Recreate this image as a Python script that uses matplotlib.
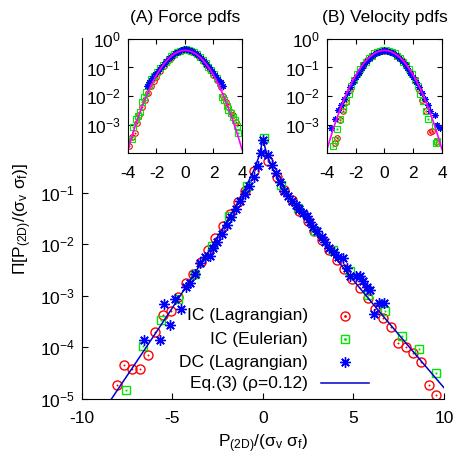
import numpy as np
import matplotlib
matplotlib.use("Agg")
import matplotlib.pyplot as plt
from matplotlib.lines import Line2D

plt.rcParams['font.family'] = ['Liberation Sans', 'DejaVu Sans']
plt.rcParams['mathtext.default'] = 'regular'
plt.rcParams['axes.unicode_minus'] = False
plt.rcParams['font.size'] = 12

RED = '#ff0000'
GREEN = '#00e600'
BLUE = '#0000ff'
LINE_BLUE = '#0000cc'
MAGENTA = '#ff00ff'

# ---- main panel: power pdf ----
ic_lag_x = [-8.08, -7.66, -7.22, -6.80, -6.37, -5.97, -5.54, -5.10, -4.71, -4.27, -3.85,
            -3.44, -3.06, -2.65, -2.23, -1.82, -1.40, -0.98, -0.48, 0.29, 0.76, 1.18,
            1.58, 1.99, 2.47, 2.84, 3.24, 3.65, 4.07, 4.49, 4.90, 5.36, 5.78, 6.19,
            6.61, 7.05, 7.44, 7.88, 8.30, 8.73, 9.17, 9.56]
ic_lag_y = [1.9e-5, 4.6e-5, 3.8e-5, 3.9e-5, 7.1e-5, 2.0e-4, 4.2e-4, 5.1e-4, 9.7e-4, 1.8e-3, 2.6e-3,
            4.6e-3, 7.8e-3, 1.3e-2, 2.3e-2, 3.9e-2, 6.5e-2, 0.11, 0.26, 0.41, 0.20, 0.114,
            0.073, 0.0435, 0.0278, 0.0178, 0.0123, 7.8e-3, 5.0e-3, 3.3e-3, 2.1e-3, 1.4e-3, 9.0e-4, 5.5e-4,
            3.7e-4, 2.5e-4, 1.24e-4, 1.04e-4, 7.7e-5, 5.3e-5, 1.9e-5, 1.2e-5]

ic_eul_x = [-7.57, -6.61, -5.65, -4.71, -3.76, -2.80, -1.88, -0.90, 0.05, 0.99, 1.95,
            2.90, 3.88, 4.81, 5.82, 6.74, 7.70, 8.62, 9.54]
ic_eul_y = [1.5e-5, 1.05e-4, 3.4e-4, 8.6e-4, 2.6e-3, 9.1e-3, 3.5e-2, 0.137, 1.15, 0.14, 0.051,
            0.018, 7.6e-3, 3.0e-3, 1.05e-3, 5.1e-4, 1.7e-4, 9.2e-5, 3.2e-5]

dc_lag_x = [-6.57, -5.69, -5.47, -5.14, -4.86, -4.55, -4.27, -4.03, -3.75, -3.48, -3.20,
            -2.95, -2.75, -2.56, -2.28, -2.00, -1.75, -1.50, -1.25, -1.00, -0.75, -0.50,
            -0.30, -0.10, 0.02, 0.29, 0.48, 0.72, 0.95, 1.18, 1.40, 1.58, 1.80, 1.99,
            2.20, 2.41, 2.60, 2.78, 3.00, 3.24, 3.45, 3.66, 3.90, 4.16, 4.44, 4.62,
            4.81, 5.12, 5.36, 5.55, 5.73, 5.91, 6.15, 6.41, 6.70]
dc_lag_y = [1.4e-4, 1.4e-4, 6.9e-4, 2.7e-4, 8.6e-4, 5.5e-4, 1.5e-3, 1.8e-3, 2.6e-3, 4.3e-3, 5.6e-3,
            5.8e-3, 8.5e-3, 1.13e-2, 1.6e-2, 2.35e-2, 3.4e-2, 4.9e-2, 6.8e-2, 9.5e-2, 0.135, 0.2,
            0.33, 0.6, 1.04, 0.55, 0.35, 0.24, 0.16, 0.106, 0.085, 0.068, 0.058, 0.048,
            0.04, 0.035, 0.027, 0.0215, 0.018, 0.0137, 0.011, 8.4e-3, 7.2e-3, 5.6e-3, 5.4e-3, 3.5e-3,
            2.4e-3, 2.4e-3, 2.45e-3, 1.9e-3, 1.5e-3, 1.3e-3, 4.5e-4, 7.2e-4, 7.2e-4]

eq3_x = [-8.6, -8.0, -7.0, -6.0, -5.0, -4.0, -3.0, -2.0, -1.5, -1.0, -0.5, -0.25, -0.1,
         -0.05, 0.05, 0.1, 0.25, 0.5, 1.0, 1.5, 2.0, 3.0, 4.0, 5.0, 6.0, 7.0, 8.0, 9.0, 10.0]
eq3_y = [7.6e-6, 1.57e-5, 5.2e-5, 1.74e-4, 5.9e-4, 2.06e-3, 7.3e-3, 2.76e-2, 5.55e-2, 0.117,
         0.276, 0.475, 0.764, 0.988, 1.0, 0.783, 0.505, 0.311, 0.149, 0.080, 0.0449, 0.0152,
         5.45e-3, 2.0e-3, 7.5e-4, 2.86e-4, 1.10e-4, 4.25e-5, 1.65e-5]

legend_labels = ['IC (Lagrangian)', 'IC (Eulerian)', 'DC (Lagrangian)', 'Eq.(3) (\u03c1=0.12)']

# ---- insets ----
gauss_x = [-4.0, -3.75, -3.5, -3.25, -3.0, -2.75, -2.5, -2.25, -2.0, -1.75, -1.5, -1.25, -1.0,
           -0.75, -0.5, -0.25, 0.0, 0.25, 0.5, 0.75, 1.0, 1.25, 1.5, 1.75, 2.0, 2.25, 2.5,
           2.75, 3.0, 3.25, 3.5, 3.75, 4.0]
gauss_y = [1.34e-4, 3.53e-4, 8.73e-4, 2.03e-3, 4.43e-3, 9.09e-3, 1.75e-2, 3.17e-2, 5.40e-2,
           8.63e-2, 0.1295, 0.1826, 0.242, 0.3011, 0.3521, 0.3867, 0.399, 0.3867, 0.3521,
           0.3011, 0.242, 0.1826, 0.1295, 8.63e-2, 5.40e-2, 3.17e-2, 1.75e-2, 9.09e-3,
           4.43e-3, 2.03e-3, 8.73e-4, 3.53e-4, 1.34e-4]

force_ic_lag_x = [-3.90, -3.74, -3.51, -3.38, -3.20, -3.00, -2.80, -2.60, -2.40, -2.20, -2.00,
                  -1.75, -1.50, -1.25, -1.00, -0.75, -0.50, -0.25, 0.00, 0.25, 0.50, 0.75,
                  1.00, 1.25, 1.50, 1.75, 2.00, 2.25, 2.50, 2.65, 2.85, 3.05, 3.25, 3.40, 3.55]
force_ic_lag_y = [1.8e-4, 3.7e-4, 5.1e-4, 1.1e-3, 2.2e-3, 4.0e-3, 7.5e-3, 0.013, 0.022, 0.033, 0.048,
                  0.075, 0.11, 0.16, 0.22, 0.28, 0.34, 0.38, 0.40, 0.39, 0.35, 0.29,
                  0.23, 0.17, 0.12, 0.085, 0.055, 0.035, 0.02, 0.010, 0.006, 0.004, 0.0028, 0.0021, 0.0012]
force_ic_eul_x = [-3.75, -3.62, -3.45, -3.30, -3.16, -3.00, -2.90, -2.75, -2.55, -2.35, -2.15,
                  -1.95, -1.75, -1.55, -1.35, -1.15, -0.95, -0.75, -0.55, -0.35, -0.15, 0.05,
                  0.25, 0.45, 0.65, 0.85, 1.05, 1.25, 1.45, 1.65, 1.85, 2.05, 2.25, 2.45,
                  2.60, 2.75, 2.95, 3.05, 3.25, 3.40, 3.52, 3.62, 3.75]
force_ic_eul_y = [3.0e-4, 8.5e-4, 1.5e-3, 2.0e-3, 2.8e-3, 6.0e-3, 9.0e-3, 0.014, 0.025, 0.038, 0.052,
                  0.07, 0.095, 0.125, 0.16, 0.2, 0.25, 0.3, 0.35, 0.39, 0.42, 0.43,
                  0.42, 0.38, 0.34, 0.29, 0.23, 0.18, 0.14, 0.105, 0.08, 0.06, 0.042, 0.028,
                  0.009, 0.0075, 0.0045, 0.0032, 0.0025, 0.0018, 0.0014, 0.0009, 0.0005]
force_dc_lag_x = [-2.7, -2.5, -2.3, -2.1, -1.9, -1.7, -1.5, -1.3, -1.1, -0.9, -0.7, -0.5, -0.3, -0.1,
                  0.1, 0.3, 0.5, 0.7, 0.9, 1.1, 1.3, 1.5, 1.7, 1.9, 2.1, 2.3, 2.5, 2.7]
force_dc_lag_y = [0.022, 0.03, 0.042, 0.058, 0.078, 0.10, 0.13, 0.17, 0.21, 0.26, 0.31, 0.36, 0.40, 0.43,
                  0.43, 0.41, 0.37, 0.32, 0.27, 0.22, 0.175, 0.135, 0.10, 0.075, 0.055, 0.04, 0.03, 0.023]

vel_ic_lag_x = [-3.45, -3.33, -3.10, -2.90, -2.70, -2.40, -2.10, -1.80, -1.50, -1.20, -0.90,
                -0.60, -0.30, 0.00, 0.30, 0.60, 0.90, 1.20, 1.50, 1.80, 2.10, 2.40, 2.62,
                2.90, 3.20, 3.30, 3.60]
vel_ic_lag_y = [2.2e-4, 3.3e-4, 1.4e-3, 3.0e-3, 6.0e-3, 0.016, 0.035, 0.068, 0.12, 0.18, 0.255,
                0.325, 0.375, 0.39, 0.375, 0.325, 0.255, 0.18, 0.12, 0.068, 0.035, 0.016, 7.2e-3,
                3.0e-3, 5.6e-4, 6.0e-4, 2.5e-4]
vel_ic_eul_x = [-3.56, -3.44, -3.30, -3.10, -2.90, -2.70, -2.50, -2.30, -2.10, -1.90, -1.70,
                -1.50, -1.30, -1.10, -0.90, -0.70, -0.50, -0.30, -0.10, 0.10, 0.30, 0.50,
                0.70, 0.90, 1.10, 1.30, 1.50, 1.70, 1.90, 2.10, 2.30, 2.50, 2.70, 2.90,
                3.04, 3.51, 3.60, 3.68]
vel_ic_eul_y = [1.7e-4, 2.9e-4, 7.0e-4, 1.6e-3, 3.5e-3, 6.5e-3, 0.012, 0.022, 0.036, 0.058, 0.088,
                0.12, 0.16, 0.21, 0.26, 0.31, 0.35, 0.38, 0.395, 0.395, 0.38, 0.35,
                0.31, 0.26, 0.21, 0.16, 0.12, 0.088, 0.058, 0.036, 0.022, 0.012, 6.5e-3, 3.0e-3,
                1.6e-3, 8.8e-4, 2.2e-4, 2.6e-4]
vel_dc_lag_x = [-3.72, -3.44, -3.21, -3.00, -2.80, -2.60, -2.40, -2.20, -2.00, -1.80, -1.60,
                -1.40, -1.20, -1.00, -0.80, -0.60, -0.40, -0.20, 0.00, 0.20, 0.40, 0.60,
                0.80, 1.00, 1.20, 1.40, 1.60, 1.80, 2.00, 2.20, 2.40, 2.60, 2.80, 3.00,
                3.20, 3.51, 3.65, 3.86]
vel_dc_lag_y = [7.4e-4, 1.6e-3, 3.2e-3, 5.0e-3, 8.0e-3, 0.013, 0.02, 0.03, 0.045, 0.065, 0.095,
                0.13, 0.17, 0.22, 0.27, 0.32, 0.36, 0.385, 0.395, 0.385, 0.36, 0.32,
                0.27, 0.22, 0.17, 0.13, 0.095, 0.065, 0.045, 0.03, 0.02, 0.013, 0.008, 0.005,
                0.003, 2.2e-3, 1.0e-3, 7.4e-4]

STAR = (8, 2, 0)


def draw_series(ax, x, y, kind, ms, mew):
    if kind == 'circle':
        ax.plot(x, y, ls='', marker='o', ms=ms, mfc='none', mec=RED, mew=mew)
        ax.plot(x, y, ls='', marker='o', ms=1.0, mfc=RED, mec=RED, mew=0.3)
    elif kind == 'square':
        ax.plot(x, y, ls='', marker='s', ms=ms, mfc='none', mec=GREEN, mew=mew)
        ax.plot(x, y, ls='', marker='s', ms=1.0, mfc=GREEN, mec=GREEN, mew=0.3)
    else:
        ax.plot(x, y, ls='', marker=STAR, ms=ms, mec=BLUE, color=BLUE, mew=mew)


fig = plt.figure(figsize=(4.55, 4.62), dpi=100)

ax = fig.add_axes([0.1802, 0.1364, 0.7956, 0.7814])
draw_series(ax, ic_lag_x, ic_lag_y, 'circle', 6.5, 1.0)
draw_series(ax, ic_eul_x, ic_eul_y, 'square', 6.0, 1.0)
draw_series(ax, dc_lag_x, dc_lag_y, 'star', 7.5, 1.0)
ax.plot(eq3_x, eq3_y, color=LINE_BLUE, lw=1.1)
ax.set_yscale('log')
ax.set_xlim(-10, 10)
ax.set_ylim(1e-5, 1e2)
ax.set_xticks([-10, -5, 0, 5, 10])
ax.set_yticks([1e-5, 1e-4, 1e-3, 1e-2, 1e-1])
ax.yaxis.set_minor_locator(matplotlib.ticker.NullLocator())
ax.spines['top'].set_visible(False)
ax.spines['right'].set_visible(False)
ax.tick_params(direction='in', length=4, width=0.8, labelsize=12.5)
ax.tick_params(axis='x', pad=9)
ax.tick_params(axis='y', pad=5)
ax.set_xlabel('P$_{(2D)}$/(\u03c3$_v$ \u03c3$_f$)', fontsize=12.5, labelpad=4)
ax.set_ylabel('\u03a0[P$_{(2D)}$/(\u03c3$_v$ \u03c3$_f$)]', fontsize=12.5, labelpad=4)

# legend drawn by hand: right-aligned text, sample on the right
rows_y = [0.230, 0.166, 0.102, 0.044]
for label, ry in zip(legend_labels, rows_y):
    ax.text(0.624, ry, label, transform=ax.transAxes, ha='right', va='center', fontsize=12.5)
ax.add_line(Line2D([0.7265], [rows_y[0]], transform=ax.transAxes, ls='', marker='o', ms=6.5,
                   mfc='none', mec=RED, mew=1.0))
ax.add_line(Line2D([0.7265], [rows_y[0]], transform=ax.transAxes, ls='', marker='o', ms=1.0,
                   mfc=RED, mec=RED))
ax.add_line(Line2D([0.7265], [rows_y[1]], transform=ax.transAxes, ls='', marker='s', ms=6.0,
                   mfc='none', mec=GREEN, mew=1.0))
ax.add_line(Line2D([0.7265], [rows_y[1]], transform=ax.transAxes, ls='', marker='s', ms=1.0,
                   mfc=GREEN, mec=GREEN))
ax.add_line(Line2D([0.7265], [rows_y[2]], transform=ax.transAxes, ls='', marker=STAR, ms=7.5,
                   mec=BLUE, mew=1.0))
ax.add_line(Line2D([0.660, 0.793], [rows_y[3], rows_y[3]], transform=ax.transAxes,
                   color=LINE_BLUE, lw=1.1))

insets = [
    ([0.2813, 0.6688, 0.2505, 0.2468], '(A) Force pdfs',
     (force_ic_lag_x, force_ic_lag_y), (force_ic_eul_x, force_ic_eul_y), (force_dc_lag_x, force_dc_lag_y)),
    ([0.7187, 0.6688, 0.2527, 0.2468], '(B) Velocity pdfs',
     (vel_ic_lag_x, vel_ic_lag_y), (vel_ic_eul_x, vel_ic_eul_y), (vel_dc_lag_x, vel_dc_lag_y)),
]
for rect, title, red, green, blue in insets:
    ia = fig.add_axes(rect)
    draw_series(ia, red[0], red[1], 'circle', 4.0, 0.8)
    draw_series(ia, green[0], green[1], 'square', 4.0, 0.8)
    draw_series(ia, blue[0], blue[1], 'star', 4.5, 0.8)
    ia.plot(gauss_x, gauss_y, color=MAGENTA, lw=1.2)
    ia.set_yscale('log')
    ia.set_xlim(-4, 4)
    ia.set_ylim(1e-4, 1)
    ia.set_xticks([-4, -2, 0, 2, 4])
    ia.set_yticks([1e-3, 1e-2, 1e-1, 1])
    ia.yaxis.set_minor_locator(matplotlib.ticker.NullLocator())
    ia.tick_params(direction='in', length=3.5, width=0.8, labelsize=12.5,
                   top=True, right=True)
    ia.tick_params(axis='x', pad=9)
    ia.tick_params(axis='y', pad=5)
    ia.set_title(title, fontsize=12.5, pad=12)

fig.savefig('out.png', dpi=100)
